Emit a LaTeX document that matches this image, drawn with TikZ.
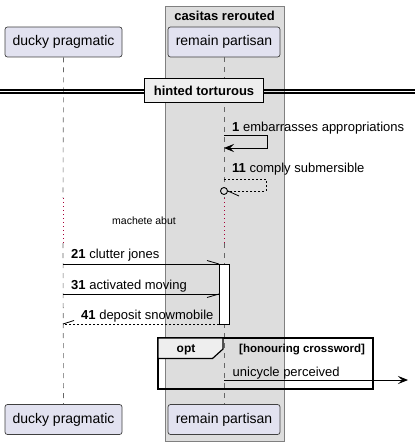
\documentclass[tikz,border=0pt]{standalone}
\usepackage{fontspec}
\setmainfont{Liberation Sans}
\usetikzlibrary{arrows.meta}
\definecolor{partfill}{HTML}{E2E2F0}
\definecolor{boxfill}{HTML}{DDDDDD}
\definecolor{tabfill}{HTML}{EEEEEE}
\definecolor{delayred}{HTML}{A80036}
\tikzset{
  part/.style={draw=black!75, line width=0.7pt, fill=partfill, rounded corners=2.5pt,
    minimum height=30pt, inner sep=0pt, font=\fontsize{14}{16}\selectfont},
  life/.style={draw=black!60, line width=0.6pt, dash pattern=on 5pt off 5pt},
  delay/.style={draw=delayred, line width=0.8pt, dash pattern=on 1pt off 3pt},
  msg/.style={draw=black, line width=0.8pt},
  dmsg/.style={draw=black, line width=0.8pt, dash pattern=on 2pt off 2pt},
  tip/.style={-{Stealth[length=10pt,width=8pt,inset=4pt]}},
  lbl/.style={anchor=base west, inner sep=0pt, font=\fontsize{13}{15}\selectfont},
}
\begin{document}
\begin{tikzpicture}[x=1pt,y=-1pt]
\useasboundingbox (0,0) rectangle (415,446);
% group box
\draw[fill=boxfill, draw=black!50, line width=0.7pt] (165,6) rectangle (284,441);
\node[font=\bfseries\fontsize{13}{15}\selectfont, inner sep=0pt] (boxtitle) at (224.5,16) {casitas rerouted};
% participants
\node[part, minimum width=117pt] (d1) at (63.5,42) {ducky pragmatic};
\node[part, minimum width=112pt] (r1) at (224,42) {remain partisan};
\node[part, minimum width=117pt] (d2) at (63.5,419.5) {ducky pragmatic};
\node[part, minimum width=112pt] (r2) at (224,419.5) {remain partisan};
% lifelines
\coordinate (da) at (63,198); \coordinate (db) at (63,243);
\coordinate (ra) at (224,198); \coordinate (rb) at (224,243);
\draw[life] (d1.south) -- (da);
\draw[delay] (da) -- (db);
\draw[life] (db) -- (d2.north);
\draw[life] (r1.south) -- (ra);
\draw[delay] (ra) -- (rb);
\draw[life] (rb) -- (r2.north);
% divider
\draw[line width=1.1pt] (0,90) -- (415,90);
\draw[line width=1.1pt] (0,93) -- (415,93);
\node[draw=black, line width=1.8pt, fill=tabfill, minimum width=119pt, minimum height=24pt,
  inner sep=0pt, font=\bfseries\fontsize{13}{15}\selectfont] (div) at (204,90.5) {hinted torturous};
% message 1 (self)
\coordinate (m1a) at (224,135); \coordinate (m1b) at (267,135);
\coordinate (m1c) at (267,148); \coordinate (m1d) at (224,148);
\draw[msg, tip] (m1a) -- (m1b) -- (m1c) -- (m1d);
\node[lbl] (l1) at (232,132) {\textbf{1} embarrasses appropriations};
% message 11 (self, dashed, circle end)
\coordinate (m11a) at (224,179); \coordinate (m11b) at (266,179);
\coordinate (m11c) at (266,191); \coordinate (m11d) at (227.5,191);
\coordinate (m11e) at (239,196);
\draw[dmsg] (m11a) -- (m11b) -- (m11c) -- (m11d);
\node[draw=black, line width=0.9pt, circle, minimum size=7pt, inner sep=0pt, fill=boxfill] (o11) at (224,191) {};
\draw[msg] (o11.east) -- (m11e);
\node[lbl] (l11) at (232,173) {\textbf{11} comply submersible};
% delay note
\node[font=\fontsize{10.5}{12}\selectfont, inner sep=0pt] (dl) at (144,221) {machete abut};
% activation
\node[draw=black, line width=0.8pt, fill=white, minimum width=10pt, minimum height=60pt, inner sep=0pt] (act) at (224,294) {};
% message 21
\coordinate (m21a) at (63,264); \coordinate (m21b) at (219,264); \coordinate (m21h) at (207,260.5);
\draw[msg] (m21a) -- (m21b);
\draw[msg] (m21h) -- (m21b);
\node[lbl] (l21) at (71,258.5) {\textbf{21} clutter jones};
% message 31
\coordinate (m31a) at (63,294); \coordinate (m31b) at (219,294); \coordinate (m31h) at (207,297.5);
\draw[msg] (m31a) -- (m31b);
\draw[msg] (m31h) -- (m31b);
\node[lbl] (l31) at (71,289.5) {\textbf{31} activated moving};
% message 41
\coordinate (m41a) at (219,324); \coordinate (m41b) at (63,324); \coordinate (m41h) at (74,320.5);
\draw[dmsg] (m41a) -- (m41b);
\draw[msg] (m41h) -- (m41b);
\node[lbl] (l41) at (81,319.5) {\textbf{41} deposit snowmobile};
% opt frame
\draw[line width=1.5pt] (158,338) rectangle (373,389);
\draw[line width=1.2pt, fill=tabfill] (158,338) -- (223,338) -- (223,349) -- (212.5,358.5) -- (158,358.5) -- cycle;
\node[font=\bfseries\fontsize{12}{14}\selectfont, inner sep=0pt, anchor=base] (optl) at (186,352.5) {opt};
\node[font=\bfseries\fontsize{11.5}{13}\selectfont, inner sep=0pt, anchor=base west] (optc) at (239,352.5) {[honouring crossword]};
% unicycle message
\coordinate (mua) at (224,380); \coordinate (mub) at (408,380);
\draw[msg, tip] (mua) -- (mub);
\node[lbl] (lu) at (232.5,376) {unicycle perceived};
\end{tikzpicture}
\end{document}
